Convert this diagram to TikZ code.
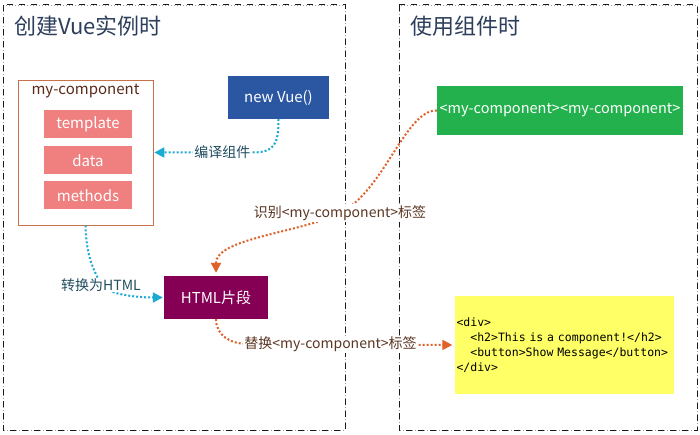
\documentclass[tikz,border=0pt]{standalone}
\usepackage{fontspec}
\setmainfont{Noto Sans CJK SC}
\setmonofont{DejaVu Sans Mono}
\usetikzlibrary{arrows.meta}
\definecolor{titlec}{HTML}{2C3E5C}
\definecolor{nvblue}{HTML}{2A56A2}
\definecolor{gbgreen}{HTML}{22B14C}
\definecolor{hfmag}{HTML}{850055}
\definecolor{salmon}{HTML}{F08080}
\definecolor{ybyel}{HTML}{FFFF66}
\definecolor{mcborder}{HTML}{C8704A}
\definecolor{mctext}{HTML}{5A2A1A}
\definecolor{cyanl}{HTML}{1AAAD2}
\definecolor{orangel}{HTML}{E0622A}
\definecolor{teallbl}{HTML}{1F4E5F}
\definecolor{brownlbl}{HTML}{5B3523}
\tikzset{
  panelbox/.style={draw=black!90, line width=1pt, dash pattern=on 6pt off 6pt},
  paneldots/.style={draw=black!40, line width=0.8pt, dash pattern=on 1pt off 2pt},
  titletext/.style={anchor=west, inner sep=0pt, text=titlec, font=\fontsize{22}{25}\selectfont},
  solidbox/.style={inner sep=0pt, text=white, font=\fontsize{15}{18}\selectfont},
  itembox/.style={solidbox, fill=salmon, minimum width=88pt, minimum height=28pt},
  cyanline/.style={cyanl, line width=2pt, dash pattern=on 2pt off 2pt, -{Triangle[length=10pt,width=10pt]}},
  orangeline/.style={orangel, line width=2pt, dash pattern=on 2pt off 2pt, -{Triangle[length=10pt,width=10pt]}},
  lbla/.style={fill=white, inner sep=1pt, text=teallbl, font=\fontsize{14}{16}\selectfont},
  lblb/.style={fill=white, inner sep=1pt, text=brownlbl, font=\fontsize{14}{16}\selectfont},
}
\begin{document}
\begin{tikzpicture}[x=1pt,y=-1pt]
\useasboundingbox (0,0) rectangle (700,435);
\fill[white] (0,0) rectangle (700,435);
% panels
\draw[paneldots] (3,5) rectangle (345,430);
\draw[panelbox] (3,5) rectangle (345,430);
\draw[paneldots] (399,5) rectangle (697,430);
\draw[panelbox] (399,5) rectangle (697,430);
\node[titletext] (t1) at (14,26) {创建Vue实例时};
\node[titletext] (t2) at (410,26) {使用组件时};
% my-component box
\node[draw=mcborder, line width=0.8pt, minimum width=135pt, minimum height=145pt, inner sep=0pt] (mc) at (85.5,152.5) {};
\node[inner sep=0pt, text=mctext, font=\fontsize{15}{18}\selectfont] (mct) at (85.5,91) {my-component};
\node[itembox] (tp) at (88,124.5) {template};
\node[itembox] (dt) at (88,160.5) {data};
\node[itembox] (md) at (88,195.5) {methods};
% other boxes
\node[solidbox, fill=nvblue, minimum width=101pt, minimum height=43pt] (nv) at (278.5,97.5) {new Vue()};
\node[solidbox, fill=gbgreen, minimum width=246pt, minimum height=49pt, font=\fontsize{14.5}{18}\selectfont] (gb) at (560,110.5) {<my-component><my-component>};
\node[solidbox, fill=hfmag, minimum width=104pt, minimum height=43pt] (hf) at (216,297.5) {HTML片段};
\node[fill=ybyel, minimum width=219pt, minimum height=98pt, inner xsep=2pt, inner ysep=0pt, text width=215pt, align=left, font=\ttfamily\fontsize{11.5}{15}\selectfont] (yb) at (564,345) {<div>\\\phantom{xx}<h2>This is a component!</h2>\\\phantom{xx}<button>Show Message</button>\\</div>};
% connectors
\draw[cyanline, shorten >=1pt] (nv.south) .. controls +(0,26) and +(22,0) .. (252,152.5) -- node[lbla, pos=0.3] {编译组件} (mc.east);
\draw[cyanline, shorten >=1pt] (mc.south) .. controls +(1,35) and +(-6,-14) .. (101,285) node[lbla] {转换为HTML} .. controls +(8,10) and +(-25,0) .. (hf.west);
\draw[orangeline, shorten >=3pt] (gb.west) .. controls (405,110) and (385,190) .. (340,213) node[lblb] {识别<my-component>标签} .. controls (300,233) and (216,238) .. (hf.north);
\draw[orangeline, shorten >=2pt] (hf.south) .. controls +(0,16) and +(-18,0) .. (248,344) -- node[lblb, pos=0.4] {替换<my-component>标签} (yb.west);
\end{tikzpicture}
\end{document}
